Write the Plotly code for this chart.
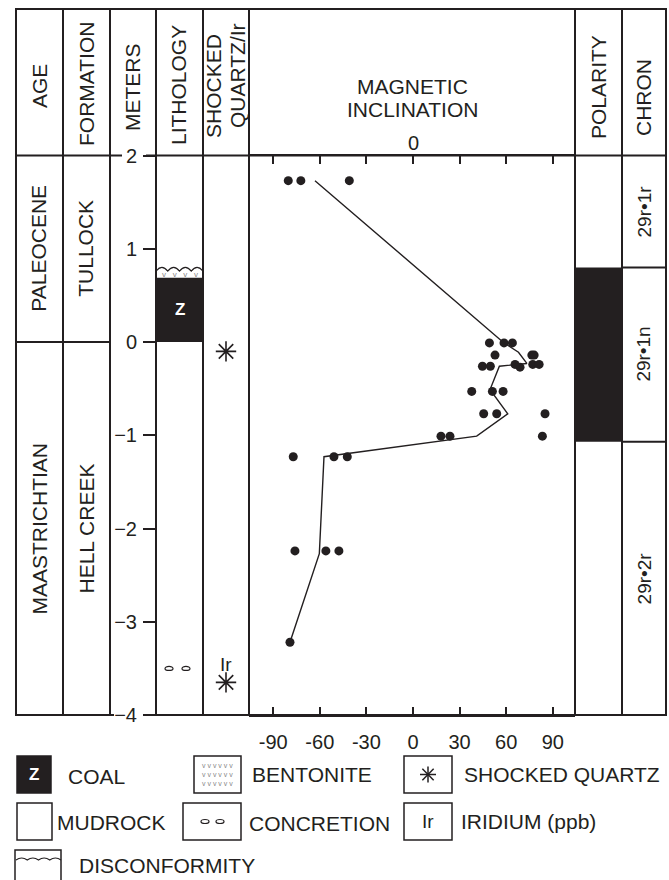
import math
import plotly.graph_objects as go

W, H = 669, 880
INK = "#231f20"
FONT = "Liberation Sans, Arial, Helvetica, sans-serif"

# ---------------- data ----------------
meter_ticks = [2, 1, 0, -1, -2, -3, -4]
incl_ticks = [-90, -60, -30, 0, 30, 60, 90]

sample_depth = [1.73, 1.73, 1.73,
                -0.01, -0.01, -0.01,
                -0.14, -0.14, -0.14,
                -0.26, -0.26, -0.27,
                -0.24, -0.24, -0.24,
                -0.53, -0.53, -0.53,
                -0.77, -0.77, -0.77,
                -1.01, -1.01, -1.01,
                -1.23, -1.23, -1.23,
                -2.24, -2.24, -2.24,
                -3.22]
sample_incl = [-80.3, -72.2, -41.0,
               49.2, 58.6, 64.0,
               52.8, 76.5, 78.0,
               44.7, 49.8, 68.9,
               65.7, 77.1, 81.2,
               37.8, 51.1, 58.0,
               45.5, 53.9, 85.0,
               18.0, 23.8, 83.3,
               -77.1, -50.9, -42.3,
               -76.0, -56.1, -47.7,
               -79.2]

mean_depth = [1.73, -0.01, -0.11, -0.23, -0.26, -0.51, -0.77, -1.01, -1.23, -2.27, -3.22]
mean_incl = [-63.1, 58.6, 67.9, 73.3, 55.6, 49.6, 61.0, 41.0, -57.3, -60.3, -79.2]

coal_interval = [0.0, 0.69]
bentonite_interval = [0.69, 0.76]
disconformity_depth = 0.76
concretion_depth = -3.5
shocked_quartz_depth = [-0.1, -3.65]
iridium_depth = [-3.46]

age_boundary = 0.0
age_names = ["PALEOCENE", "MAASTRICHTIAN"]
formation_names = ["TULLOCK", "HELL CREEK"]
unit_centers = [1.0, -2.0]

normal_polarity = [-1.07, 0.80]
chron_bounds = [0.80, -1.07]
chron_names = ["29r\u20221r", "29r\u20221n", "29r\u20222r"]
chron_centers = [1.40, -0.135, -2.535]

headers = ["AGE", "FORMATION", "METERS", "LITHOLOGY", "SHOCKED", "QUARTZ/Ir", "POLARITY", "CHRON"]

# ---------------- helpers ----------------
def px(x):
    return x / W

def py(y):
    return 1 - y / H

TOP, HDR, BOT = 9, 155.5, 715
col_x = [16, 63, 110, 156, 203, 249, 575, 622, 666]

fig = go.Figure()

# points and running line
fig.add_trace(go.Scatter(x=sample_incl, y=sample_depth, mode="markers",
                         marker=dict(size=9, color=INK), xaxis="x", yaxis="y",
                         hoverinfo="skip"))
fig.add_trace(go.Scatter(x=mean_incl, y=mean_depth, mode="lines",
                         line=dict(color=INK, width=1.4), xaxis="x", yaxis="y",
                         hoverinfo="skip"))

# lithology: coal
fig.add_trace(go.Bar(x=[0.5], y=[coal_interval[1] - coal_interval[0]], base=[coal_interval[0]],
                     width=[1], marker=dict(color=INK, line=dict(width=0)),
                     xaxis="x2", yaxis="y", hoverinfo="skip"))
# polarity
fig.add_trace(go.Bar(x=[0.5], y=[normal_polarity[1] - normal_polarity[0]], base=[normal_polarity[0]],
                     width=[1], marker=dict(color=INK, line=dict(width=0)),
                     xaxis="x4", yaxis="y", hoverinfo="skip"))
# shocked quartz
fig.add_trace(go.Scatter(x=[0.5] * len(shocked_quartz_depth), y=shocked_quartz_depth, mode="markers",
                         marker=dict(symbol="asterisk-open", size=17, color=INK,
                                     line=dict(color=INK, width=1.6)),
                         xaxis="x3", yaxis="y", hoverinfo="skip"))

shapes = []
line = dict(color=INK, width=2)
# frame
for x in col_x:
    shapes.append(dict(type="line", xref="paper", yref="paper",
                       x0=px(x), x1=px(x), y0=py(TOP), y1=py(BOT), line=line))
shapes.append(dict(type="line", xref="paper", yref="paper",
                   x0=px(15), x1=px(667), y0=py(TOP), y1=py(TOP), line=line))
for (a, b) in [(15, 122), (146, 667)]:
    shapes.append(dict(type="line", xref="paper", yref="paper",
                       x0=px(a), x1=px(b), y0=py(HDR), y1=py(HDR), line=line))
for (a, b) in [(15, 114), (144, 667)]:
    shapes.append(dict(type="line", xref="paper", yref="paper",
                       x0=px(a), x1=px(b), y0=py(BOT), y1=py(BOT), line=line))
# age / formation boundary
shapes.append(dict(type="line", xref="paper", yref="y", x0=px(16), x1=px(110),
                   y0=age_boundary, y1=age_boundary, line=line))
# chron boundaries
for d in chron_bounds:
    shapes.append(dict(type="line", xref="paper", yref="y", x0=px(622), x1=px(666),
                       y0=d, y1=d, line=line))
# disconformity wave in lithology column
amp = 0.08
p = "M 0,%g" % disconformity_depth
for i in range(4):
    p += " Q %g,%g %g,%g" % ((i + 0.5) / 4, disconformity_depth + amp, (i + 1) / 4, disconformity_depth)
shapes.append(dict(type="path", xref="x2", yref="y", path=p, line=dict(color=INK, width=1.1)))
# concretions
for cx in [0.277, 0.638]:
    shapes.append(dict(type="circle", xref="x2", yref="y", x0=cx - 0.085, x1=cx + 0.085,
                       y0=concretion_depth - 0.022, y1=concretion_depth + 0.022,
                       line=dict(color=INK, width=1.2)))

# ---- legend glyphs ----
R1, R2, R3 = 756, 803, 850   # top of legend rows
BH = 37

def box(x0, y0, x1, y1, fill="white"):
    shapes.append(dict(type="rect", xref="paper", yref="paper", x0=px(x0), x1=px(x1),
                       y0=py(y1), y1=py(y0), fillcolor=fill, line=dict(color=INK, width=1.5)))

box(17, R1, 51, R1 + BH, INK)
box(194, R1, 241, R1 + BH)
box(404, R1, 452, R1 + BH)
box(17, R2, 52, R2 + BH)
box(183, R2, 241, R2 + BH)
box(404, R2, 452, R2 + BH)
box(15, R3, 61, R3 + 40)
# legend asterisk
cx, cy, r = 428, R1 + BH / 2, 8
for ang in [0, 45, 90, 135]:
    dxp = r * math.cos(math.radians(ang))
    dyp = r * math.sin(math.radians(ang))
    shapes.append(dict(type="line", xref="paper", yref="paper",
                       x0=px(cx - dxp), x1=px(cx + dxp), y0=py(cy - dyp), y1=py(cy + dyp),
                       line=dict(color=INK, width=1.5)))
# legend concretions
for ex in [205, 220]:
    shapes.append(dict(type="circle", xref="paper", yref="paper", x0=px(ex - 4), x1=px(ex + 4),
                       y0=py(R2 + BH / 2 + 2), y1=py(R2 + BH / 2 - 2), line=dict(color=INK, width=1.2)))
# legend wave
wy = R3 + 10
p = "M %g,%g" % (px(16), py(wy))
n = 4
for i in range(n):
    xa = 16 + (61 - 16) * (i + 0.5) / n
    xb = 16 + (61 - 16) * (i + 1) / n
    p += " Q %g,%g %g,%g" % (px(xa), py(wy - 4), px(xb), py(wy))
shapes.append(dict(type="path", xref="paper", yref="paper", path=p, line=dict(color=INK, width=1.1)))

# ---------------- annotations ----------------
ann = []
def text(x, y, s, size=21, angle=0, xref="paper", yref="paper", color=INK, xanchor="center",
         yanchor="middle", align="center", bold=False):
    if xref == "paper":
        x = px(x)
    if yref == "paper":
        y = py(y)
    ann.append(dict(x=x, y=y, xref=xref, yref=yref, text=("<b>%s</b>" % s) if bold else s,
                    showarrow=False, textangle=angle, xanchor=xanchor, yanchor=yanchor,
                    align=align, font=dict(family=FONT, size=size, color=color)))

hdr_x = [39, 86, 132, 179, 213, 237, 598, 644]
hdr_y = [86, 84, 87, 85, 86, 76, 87, 98]
for s, x, y in zip(headers, hdr_x, hdr_y):
    text(x, y, s, size=21, angle=-90)
text(412, 86, "MAGNETIC", size=21)
text(412, 109, "INCLINATION", size=21)
text(0, 143, "0", size=20, xref="x")

for s, c in zip(age_names, unit_centers):
    text(39, c, s, size=21, angle=-90, yref="y")
for s, c in zip(formation_names, unit_centers):
    text(86, c, s, size=21, angle=-90, yref="y")
for s, c in zip(chron_names, chron_centers):
    text(644, c, s, size=19, angle=-90, yref="y")

text(0.5, sum(coal_interval) / 2, "Z", size=17, xref="x2", yref="y", color="white", bold=True)
text(0.5, sum(bentonite_interval) / 2, "v   v   v   v", size=8, xref="x2", yref="y", color="#888888")
for d in iridium_depth:
    text(0.5, d, "Ir", size=19, xref="x3", yref="y")

# legend texts
c1, c2, c3 = R1 + BH / 2, R2 + BH / 2, R3 + 15
text(34, c1, "Z", size=17, color="white", bold=True)
text(217, c1, "v v v v v v<br>v v v v v v<br>v v v v v v", size=7, color="#888888")
text(428, c2, "Ir", size=19)
text(66, c1 + 2, "COAL", xanchor="left")
text(250, c1, "BENTONITE", xanchor="left")
text(462, c1, "SHOCKED QUARTZ", xanchor="left")
text(55, c2 + 1, "MUDROCK", xanchor="left")
text(247, c2 + 2, "CONCRETION", xanchor="left")
text(459, c2, "IRIDIUM (ppb)", xanchor="left")
text(77, c3, "DISCONFORMITY", xanchor="left")

# ---------------- layout ----------------
hidden = dict(visible=False, range=[0, 1], fixedrange=True, anchor="y")
x_left = -(413 - 249) / 46.6 * 30
x_right = (575 - 413) / 46.6 * 30
fig.update_layout(
    width=W, height=H, margin=dict(l=0, r=0, t=0, b=0, autoexpand=False),
    paper_bgcolor="white", plot_bgcolor="rgba(0,0,0,0)", showlegend=False,
    font=dict(family=FONT, color=INK),
    xaxis=dict(domain=[px(249), px(575)], range=[x_left, x_right], tickvals=incl_ticks,
               ticktext=[str(v) for v in incl_ticks], ticks="inside", ticklen=8, tickwidth=2,
               tickcolor=INK, showline=True, linecolor=INK, linewidth=2, mirror="ticks",
               showgrid=False, zeroline=False, ticklabelstandoff=8,
               tickfont=dict(family=FONT, size=20, color=INK), anchor="y"),
    yaxis=dict(domain=[py(BOT), py(HDR)], range=[-4, 2], visible=False, anchor="x"),
    yaxis2=dict(overlaying="y", anchor="free", position=px(156), side="left", range=[-4, 2],
                tickvals=meter_ticks, ticks="outside", ticklen=13, tickwidth=2, tickcolor=INK,
                showgrid=False, zeroline=False, showline=False, ticklabelstandoff=2,
                tickfont=dict(family=FONT, size=20, color=INK)),
    xaxis2=dict(domain=[px(156), px(203)], **hidden),
    xaxis3=dict(domain=[px(203), px(249)], **hidden),
    xaxis4=dict(domain=[px(575), px(622)], **hidden),
    shapes=shapes, annotations=ann,
)
# empty trace so the meters axis is drawn
fig.add_trace(go.Scatter(x=[None], y=[None], xaxis="x", yaxis="y2", showlegend=False))

fig.write_html("out.html", config=dict(displayModeBar=False, staticPlot=True),
               post_script="document.body.style.margin='0px';document.body.style.overflow='hidden';")
